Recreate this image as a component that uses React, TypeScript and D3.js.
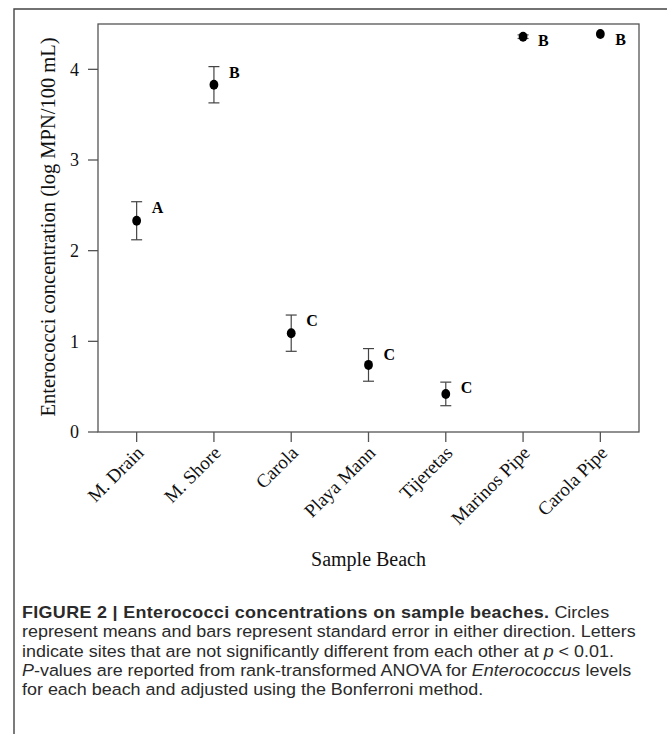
import React from "react";
import * as d3 from "d3";

const beaches = ["M. Drain", "M. Shore", "Carola", "Playa Mann", "Tijeretas", "Marinos Pipe", "Carola Pipe"];
const means = [2.33, 3.83, 1.09, 0.74, 0.42, 4.36, 4.39];
const stdErr = [0.21, 0.2, 0.2, 0.18, 0.13, 0.02, 0.0];
const groups = ["A", "B", "C", "C", "C", "B", "B"];
const yTicks = [0, 1, 2, 3, 4];

const captionLines = [
  [{ t: "FIGURE 2 | Enterococci concentrations on sample beaches.", b: true }, { t: " Circles" }],
  [{ t: "represent means and bars represent standard error in either direction. Letters" }],
  [{ t: "indicate sites that are not significantly different from each other at " }, { t: "p", i: true }, { t: " < 0.01." }],
  [{ t: "P", i: true }, { t: "-values are reported from rank-transformed ANOVA for " }, { t: "Enterococcus", i: true }, { t: " levels" }],
  [{ t: "for each beach and adjusted using the Bonferroni method." }],
];

export default function App() {
  const W = 667, H = 734;
  const left = 98, right = 639, top = 24, bottom = 432;
  const x = d3.scaleBand<string>().domain(beaches).range([left, right]);
  const y = d3.scaleLinear().domain([0, 4.5]).range([bottom, top]);
  const cx = (b: string) => (x(b) as number) + x.bandwidth() / 2;
  const serif = "'Liberation Serif', 'Times New Roman', serif";
  const sans = "'Liberation Sans', Arial, Helvetica, sans-serif";
  const axisColor = "#555";
  return (
    <svg width={W} height={H} style={{ position: "absolute", left: 0, top: 0, background: "#fff" }}>
      <path d={`M14,${H} L14,9 L${W},9`} fill="none" stroke="#444" strokeWidth={1.4} />
      <rect x={left} y={top} width={right - left} height={bottom - top} fill="none" stroke={axisColor} strokeWidth={1.3} />
      {yTicks.map((t) => (
        <g key={t}>
          <line x1={left - 10} x2={left} y1={y(t)} y2={y(t)} stroke={axisColor} strokeWidth={1.3} />
          <text x={left - 19} y={y(t)} dy="0.35em" textAnchor="end" fontFamily={serif} fontSize={18} fill="#111">
            {t}
          </text>
        </g>
      ))}
      {beaches.map((b) => (
        <g key={b}>
          <line x1={cx(b)} x2={cx(b)} y1={bottom} y2={bottom + 10} stroke={axisColor} strokeWidth={1.3} />
          <text
            transform={`translate(${cx(b) + 8},${bottom + 22}) rotate(-45)`}
            textAnchor="end"
            fontFamily={serif}
            fontSize={19}
            fill="#111"
          >
            {b}
          </text>
        </g>
      ))}
      {beaches.map((b, i) => {
        const m = means[i], se = stdErr[i];
        const xc = cx(b);
        return (
          <g key={b}>
            {se > 0 && (
              <g stroke="#444" strokeWidth={1.2}>
                <line x1={xc} x2={xc} y1={y(m - se)} y2={y(m + se)} />
                <line x1={xc - 5.5} x2={xc + 5.5} y1={y(m + se)} y2={y(m + se)} />
                <line x1={xc - 5.5} x2={xc + 5.5} y1={y(m - se)} y2={y(m - se)} />
              </g>
            )}
            <ellipse cx={xc} cy={y(m)} rx={4.4} ry={5} fill="#000" />
            <text x={xc + 15} y={y(m + se) + 11} fontFamily={serif} fontWeight="bold" fontSize={16} fill="#000">
              {groups[i]}
            </text>
          </g>
        );
      })}
      <text
        transform={`translate(55,227) rotate(-90)`}
        textAnchor="middle"
        fontFamily={serif}
        fontSize={20.5}
        fill="#111"
      >
        Enterococci concentration (log MPN/100 mL)
      </text>
      <text x={(left + right) / 2} y={566} textAnchor="middle" fontFamily={serif} fontSize={20} fill="#111">
        Sample Beach
      </text>
      {captionLines.map((line, li) => (
        <g key={li} transform={`translate(22,${618 + li * 19.3}) scale(1.1,1)`}>
          <text x={0} y={0} fontFamily={sans} fontSize={16.3} fill="#2a2a2a">
            {line.map((s: any, si: number) => (
              <tspan
                key={si}
                fontWeight={s.b ? "bold" : "normal"}
                fontStyle={s.i ? "italic" : "normal"}
                letterSpacing={s.b ? 0.3 : 0}
              >
                {s.t}
              </tspan>
            ))}
          </text>
        </g>
      ))}
    </svg>
  );
}
